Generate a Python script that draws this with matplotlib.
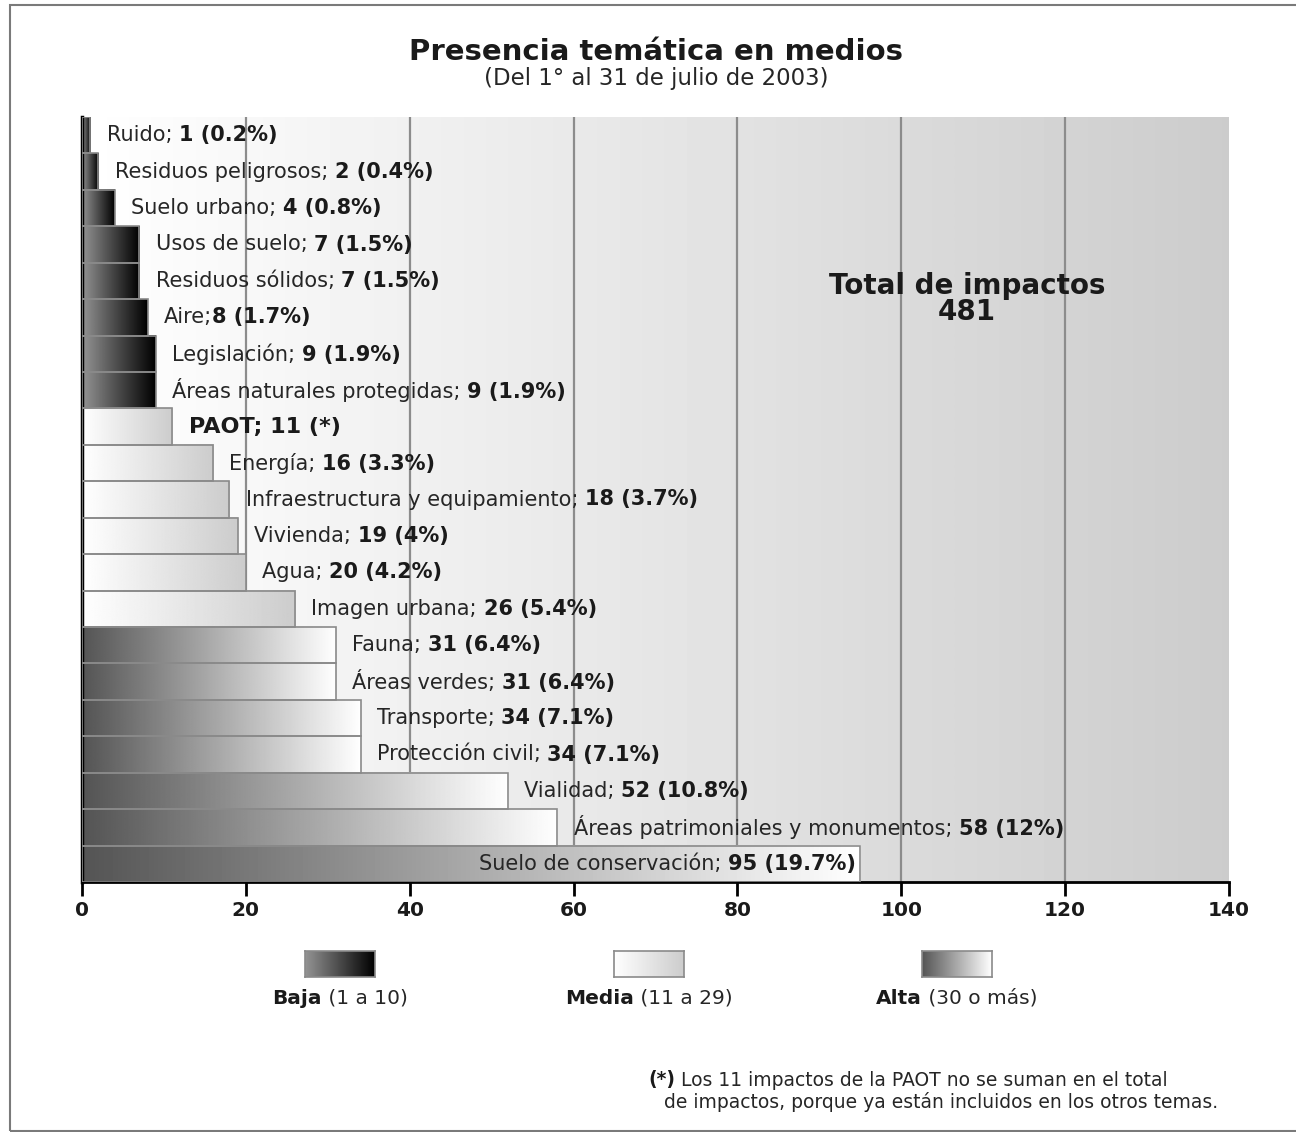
import matplotlib
matplotlib.use("Agg")
import matplotlib.pyplot as plt
import numpy as np
from matplotlib.patches import Rectangle
from matplotlib.offsetbox import TextArea, HPacker, AnnotationBbox

plt.rcParams["font.family"] = ["DejaVu Sans"]

temas = ["Ruido", "Residuos peligrosos", "Suelo urbano", "Usos de suelo",
         "Residuos sólidos", "Aire", "Legislación", "Áreas naturales protegidas",
         "PAOT", "Energía", "Infraestructura y equipamiento", "Vivienda", "Agua",
         "Imagen urbana", "Fauna", "Áreas verdes", "Transporte", "Protección civil",
         "Vialidad", "Áreas patrimoniales y monumentos", "Suelo de conservación"]
impactos = [1, 2, 4, 7, 7, 8, 9, 9, 11, 16, 18, 19, 20, 26, 31, 31, 34, 34, 52, 58, 95]
porcentajes = ["0.2%", "0.4%", "0.8%", "1.5%", "1.5%", "1.7%", "1.9%", "1.9%", None,
               "3.3%", "3.7%", "4%", "4.2%", "5.4%", "6.4%", "6.4%", "7.1%", "7.1%",
               "10.8%", "12%", "19.7%"]
total = 481
xticks = [0, 20, 40, 60, 80, 100, 120, 140]

# gradient (left grey, right grey) per class
grad = {"baja": (0.58, 0.0), "media": (1.0, 0.80), "alta": (0.33, 1.0)}
leyenda = [("baja", "Baja", " (1 a 10)"), ("media", "Media", " (11 a 29)"),
           ("alta", "Alta", " (30 o más)")]


def clase(v):
    if v <= 10:
        return "baja"
    if v < 30:
        return "media"
    return "alta"


def ramp(a, b):
    return np.linspace(a, b, 256).reshape(1, -1)


fig = plt.figure(figsize=(12.96, 11.32), dpi=100)
ax = fig.add_axes([82 / 1296, 1 - 882 / 1132, 1147 / 1296, 765 / 1132])

n = len(temas)
# background gradient
ax.imshow(ramp(1.0, 0.80), cmap="gray", vmin=0, vmax=1, aspect="auto",
          extent=(0, 140, n - 0.5, -0.5), zorder=0, interpolation="bilinear")
for x in xticks[1:-1]:
    ax.axvline(x, color="#8c8c8c", lw=1.6, zorder=1)

for i, (t, v, p) in enumerate(zip(temas, impactos, porcentajes)):
    a, b = grad[clase(v)]
    ax.imshow(ramp(a, b), cmap="gray", vmin=0, vmax=1, aspect="auto",
              extent=(0, v, i + 0.5, i - 0.5), zorder=2, interpolation="bilinear")
    ax.add_patch(Rectangle((0, i - 0.5), v, 1, fill=False, ec="#8a8a8a", lw=1.2, zorder=3))

    if p is None:
        parts = [TextArea(f"{t}; {v} (*)", textprops=dict(fontsize=16, fontweight="bold", color="#1a1a1a"))]
    else:
        sep = ";" if t == "Aire" else "; "
        parts = [TextArea(t + sep, textprops=dict(fontsize=15, color="#262626")),
                 TextArea(f"{v} ({p})", textprops=dict(fontsize=15, fontweight="bold", color="#1a1a1a"))]
    box = HPacker(children=parts, align="baseline", pad=0, sep=0)
    if v > 80:
        ab = AnnotationBbox(box, (v - 0.6, i), xycoords="data", box_alignment=(1, 0.5),
                            frameon=False, pad=0, zorder=5)
    else:
        ab = AnnotationBbox(box, (v + 2.0, i), xycoords="data", box_alignment=(0, 0.5),
                            frameon=False, pad=0, zorder=5)
    ax.add_artist(ab)

ax.text(108, 4.5, f"Total de impactos\n{total}", ha="center", va="center",
        fontsize=20, fontweight="bold", color="#1a1a1a", linespacing=0.9, zorder=5)

ax.set_xlim(0, 140)
ax.set_ylim(n - 0.5, -0.5)
ax.set_xticks(xticks)
ax.set_yticks([])
ax.tick_params(axis="x", direction="out", length=10, width=2, color="black",
               labelsize=14.5, pad=4)
for lab in ax.get_xticklabels():
    lab.set_fontweight("bold")
    lab.set_color("#1a1a1a")
for s in ["top", "right"]:
    ax.spines[s].set_visible(False)
ax.spines["left"].set_linewidth(2.5)
ax.spines["bottom"].set_linewidth(2)

fig.text(656 / 1296, 1 - 52 / 1132, "Presencia temática en medios", ha="center", va="center",
         fontsize=21, fontweight="bold", color="#1a1a1a")
fig.text(656 / 1296, 1 - 78 / 1132, "(Del 1° al 31 de julio de 2003)", ha="center", va="center",
         fontsize=16.5, color="#262626")

# legend
cx = [340, 649, 957]
for c, (key, bold, rest) in zip(cx, leyenda):
    lax = fig.add_axes([(c - 35) / 1296, 1 - 977 / 1132, 70 / 1296, 26 / 1132])
    a, b = grad[key]
    lax.imshow(ramp(a, b), cmap="gray", vmin=0, vmax=1, aspect="auto", interpolation="bilinear")
    lax.set_xticks([])
    lax.set_yticks([])
    for s in lax.spines.values():
        s.set_color("#8a8a8a")
        s.set_linewidth(1.2)
    box = HPacker(children=[TextArea(bold, textprops=dict(fontsize=14.5, fontweight="bold", color="#1a1a1a")),
                            TextArea(rest, textprops=dict(fontsize=14.5, color="#262626"))],
                  align="baseline", pad=0, sep=0)
    fig.add_artist(AnnotationBbox(box, (c / 1296, 1 - 998 / 1132), xycoords="figure fraction",
                                  box_alignment=(0.5, 0.5), frameon=False, pad=0))

# footnote
box = HPacker(children=[TextArea("(*)", textprops=dict(fontsize=13.5, fontweight="bold", color="#1a1a1a")),
                        TextArea(" Los 11 impactos de la PAOT no se suman en el total",
                                 textprops=dict(fontsize=13.5, color="#262626"))],
              align="baseline", pad=0, sep=0)
fig.add_artist(AnnotationBbox(box, (648 / 1296, 1 - 1080 / 1132), xycoords="figure fraction",
                              box_alignment=(0, 0.5), frameon=False, pad=0))
fig.text(664 / 1296, 1 - 1102 / 1132, "de impactos, porque ya están incluidos en los otros temas.",
         ha="left", va="center", fontsize=13.5, color="#262626")

fig.add_artist(Rectangle((10 / 1296, 1 / 1132), 1.0, 1 - 6 / 1132, transform=fig.transFigure,
                         fill=False, ec="#7a7a7a", lw=1.5, clip_on=False))

fig.savefig("out.png", dpi=100)
